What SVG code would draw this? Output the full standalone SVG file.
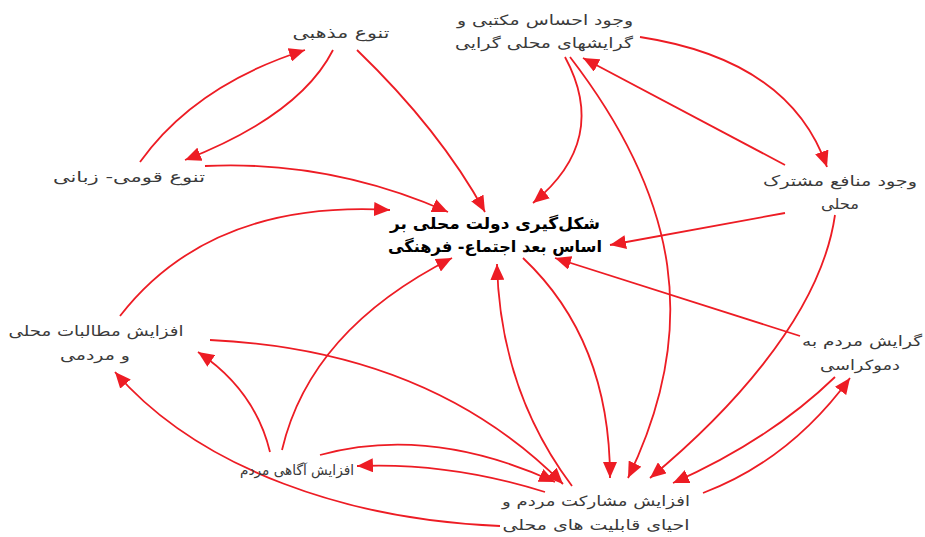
<svg xmlns="http://www.w3.org/2000/svg" width="925" height="537" viewBox="0 0 925 537">
<style>
.n{font-family:"DejaVu Sans","Noto Sans",sans-serif;font-size:14px;fill:#3a3a3a;text-anchor:middle;direction:rtl}
.c{font-family:"DejaVu Sans","Noto Sans",sans-serif;font-size:16px;font-weight:bold;fill:#000;text-anchor:middle;direction:rtl}
.e{fill:none;stroke:#ED1C24;stroke-width:1.8;marker-end:url(#ah)}
</style>
<defs>
<marker id="ah" markerUnits="userSpaceOnUse" markerWidth="16" markerHeight="14" refX="16" refY="7" orient="auto">
<path d="M0,0 L16,7 L0,14 z" fill="#ED1C24"/>
</marker>
</defs>
<rect width="925" height="537" fill="#fff"/>
<g id="connectors">
<path class="e" d="M333,50 Q300,115 185,160"/>
<path class="e" d="M140,162 Q195,85 305,50"/>
<path class="e" d="M357,50 Q440,130 485,212"/>
<path class="e" d="M205,166 Q330,160 448,212"/>
<path class="e" d="M120,316 Q210,200 390,210"/>
<path class="e" d="M270,452 Q255,390 198,352"/>
<path class="e" d="M282,450 Q310,330 452,258"/>
<path class="e" d="M320,455 Q430,425 555,482"/>
<path class="e" d="M545,492 Q450,462 357,466"/>
<path class="e" d="M210,340 Q430,350 563,484"/>
<path class="e" d="M500,526 C350,520 200,470 115,372"/>
<path class="e" d="M572,486 Q500,390 497,264"/>
<path class="e" d="M523,258 Q610,340 610,478"/>
<path class="e" d="M565,57 Q610,140 533,203"/>
<path class="e" d="M570,57 C680,200 700,330 628,478"/>
<path class="e" d="M640,37 Q790,60 827,167"/>
<path class="e" d="M785,165 L583,58"/>
<path class="e" d="M785,213 L610,245"/>
<path class="e" d="M835,215 C820,320 720,420 650,478"/>
<path class="e" d="M800,336 L555,258"/>
<path class="e" d="M835,377 Q770,440 673,483"/>
<path class="e" d="M703,493 Q790,460 850,378"/>
</g>
<g id="center"><text class="c" x="495" y="229" textLength="210" lengthAdjust="spacingAndGlyphs">شکل‌گیری دولت محلی بر</text><text class="c" x="495" y="252" textLength="214" lengthAdjust="spacingAndGlyphs">اساس بعد اجتماع- فرهنگی</text></g>
<g id="n-maktabi"><text class="n" x="545" y="25" textLength="176" lengthAdjust="spacingAndGlyphs">وجود احساس مکتبی و</text><text class="n" x="544" y="48" textLength="178" lengthAdjust="spacingAndGlyphs">گرایشهای محلی گرایی</text></g>
<g id="n-mazhabi"><text class="n" x="341" y="38" textLength="97" lengthAdjust="spacingAndGlyphs">تنوع مذهبی</text></g>
<g id="n-qowmi"><text class="n" x="129" y="182" textLength="152" lengthAdjust="spacingAndGlyphs">تنوع قومی- زبانی</text></g>
<g id="n-manafe"><text class="n" x="840" y="186" textLength="154" lengthAdjust="spacingAndGlyphs">وجود منافع مشترک</text><text class="n" x="840" y="209" textLength="38" lengthAdjust="spacingAndGlyphs">محلی</text></g>
<g id="n-motalebat"><text class="n" x="96" y="336" textLength="175" lengthAdjust="spacingAndGlyphs">افزایش مطالبات محلی</text><text class="n" x="95" y="360" textLength="70" lengthAdjust="spacingAndGlyphs">و مردمی</text></g>
<g id="n-democracy"><text class="n" x="862" y="346" textLength="120" lengthAdjust="spacingAndGlyphs">گرایش مردم به</text><text class="n" x="860" y="370" textLength="80" lengthAdjust="spacingAndGlyphs">دموکراسی</text></g>
<g id="n-agahi"><text class="n" x="297" y="475" textLength="114" lengthAdjust="spacingAndGlyphs">افزایش آگاهی مردم</text></g>
<g id="n-mosharekat"><text class="n" x="596" y="506" textLength="188" lengthAdjust="spacingAndGlyphs">افزایش مشارکت مردم و</text><text class="n" x="596" y="530" textLength="187" lengthAdjust="spacingAndGlyphs">احیای قابلیت های محلی</text></g>
</svg>
